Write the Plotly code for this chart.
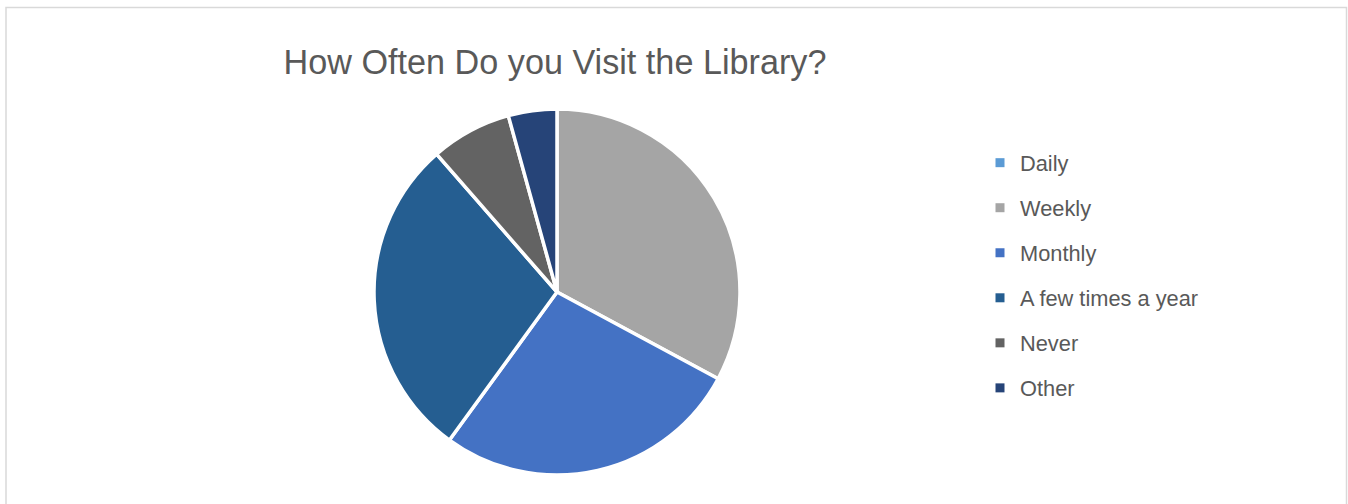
import plotly.graph_objects as go

categories = ["Daily", "Weekly", "Monthly", "A few times a year", "Never", "Other"]
values = [0, 23, 19, 20, 5, 3]
colors = ["#5B9BD5", "#A5A5A5", "#4472C4", "#255E91", "#636363", "#264478"]
title_text = "How Often Do you Visit the Library?"

W, H = 1348, 504
cx, cy, R = 557, 292, 183

fig = go.Figure()
fig.add_trace(go.Pie(
    labels=categories, values=values, sort=False, direction="clockwise",
    rotation=0, textinfo="none", showlegend=False,
    marker=dict(colors=colors, line=dict(color="white", width=3.5)),
    domain=dict(x=[(cx - R) / W, (cx + R) / W], y=[(H - cy - R) / H, (H - cy + R) / H]),
))

for i, (c, col) in enumerate(zip(categories, colors)):
    fig.add_trace(go.Scatter(
        x=[None], y=[None], mode="markers", name=c,
        marker=dict(symbol="square", size=9, color=col),
        legendgroup=f"g{i}", showlegend=True,
    ))

fig.update_layout(
    width=W, height=H,
    margin=dict(l=0, r=0, t=0, b=0),
    paper_bgcolor="white", plot_bgcolor="white",
    xaxis=dict(visible=False), yaxis=dict(visible=False),
    title=dict(text=title_text, x=555 / W, xanchor="center", y=1 - 62 / H,
               yanchor="middle", font=dict(family="Liberation Sans", size=34.2, color="#595959")),
    legend=dict(x=980 / W, xanchor="left", y=1 - 142 / H, yanchor="top",
                font=dict(family="Liberation Sans", size=21.8, color="#595959"),
                tracegroupgap=13.7, bgcolor="rgba(0,0,0,0)"),
    shapes=[dict(type="rect", xref="paper", yref="paper",
                 x0=6 / W, x1=1346.5 / W, y0=-0.1, y1=1 - 7.5 / H,
                 line=dict(color="#D9D9D9", width=1.5))],
)

fig.write_html("out.html", config={"displayModeBar": False},
               post_script="document.body.style.margin='0';document.body.style.overflow='hidden';")
